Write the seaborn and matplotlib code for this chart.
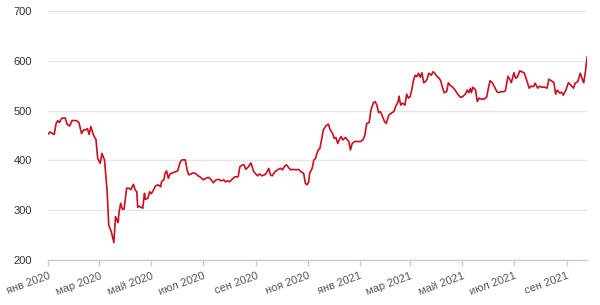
import matplotlib
matplotlib.use("Agg")
import matplotlib.pyplot as plt
import matplotlib.dates as mdates
import seaborn as sns
import pandas as pd
import numpy as np

# days since 2020-01-01
day_offsets = [
    0, 2, 7, 9, 11, 13, 16, 20, 22, 25, 28, 33, 36, 39, 42, 44, 46, 48, 50, 53,
    56, 58, 61, 63, 66, 69, 71, 74, 77, 79, 82, 83, 85, 87, 89, 92, 95, 97, 100, 102,
    104, 105, 107, 109, 111, 113, 114, 117, 119, 121, 124, 126, 129, 132, 133, 136, 137, 139, 141, 143,
    146, 149, 152, 155, 157, 161, 163, 165, 168, 170, 173, 176, 179, 182, 185, 188, 191, 194, 197, 200,
    203, 206, 208, 211, 213, 216, 219, 223, 225, 228, 230, 232, 235, 238, 241, 243, 246, 248, 251, 254,
    256, 259, 261, 263, 266, 270, 273, 275, 278, 280, 283, 285, 288, 291, 294, 297, 300, 302, 304, 306,
    307, 310, 312, 314, 315, 317, 319, 321, 323, 326, 329, 331, 334, 336, 338, 340, 342, 344, 346, 349,
    351, 353, 355, 357, 360, 364, 367, 370, 372, 374, 377, 379, 382, 384, 386, 388, 390, 392, 395, 397,
    399, 400, 403, 406, 408, 411, 412, 414, 416, 419, 421, 423, 425, 427, 429, 431, 433, 435, 437, 439,
    441, 443, 445, 447, 450, 452, 454, 457, 459, 461, 463, 465, 468, 470, 472, 475, 478, 481, 484, 486,
    490, 492, 494, 496, 497, 499, 502, 504, 506, 509, 512, 515, 517, 519, 522, 524, 527, 529, 532, 535,
    537, 540, 542, 544, 547, 549, 551, 554, 556, 559, 562, 565, 567, 570, 572, 575, 577, 580, 583, 586,
    588, 591, 594, 596, 598, 601, 603, 605, 608, 611, 614, 617, 619, 622, 625, 628, 629, 631, 633,
]
prices = [
    453, 457, 452, 473, 480, 476, 485, 485, 473, 469, 480, 480, 476, 454, 462, 461, 464, 452, 468, 451,
    442, 404, 394, 414, 401, 341, 270, 257, 235, 287, 275, 294, 314, 302, 302, 344, 344, 341, 352, 341,
    337, 306, 308, 306, 304, 334, 322, 324, 337, 333, 342, 349, 351, 347, 357, 362, 373, 379, 364, 373,
    375, 377, 379, 397, 401, 401, 381, 371, 373, 375, 374, 369, 366, 361, 364, 366, 362, 355, 361, 362,
    359, 361, 357, 359, 357, 362, 367, 367, 387, 391, 391, 382, 387, 395, 379, 374, 369, 373, 369, 371,
    374, 384, 371, 369, 377, 382, 384, 381, 389, 391, 384, 381, 382, 381, 382, 377, 374, 354, 351, 357,
    374, 384, 401, 404, 411, 421, 424, 441, 461, 469, 473, 462, 454, 444, 446, 434, 442, 448, 441, 446,
    442, 438, 421, 434, 438, 438, 438, 442, 451, 474, 476, 501, 516, 518, 511, 496, 498, 491, 478, 474,
    485, 491, 495, 498, 508, 518, 529, 511, 515, 511, 533, 525, 528, 541, 561, 571, 568, 575, 567, 576,
    556, 558, 563, 575, 571, 578, 575, 568, 565, 560, 547, 536, 538, 556, 551, 547, 541, 533, 527, 527,
    533, 541, 536, 545, 536, 547, 541, 518, 525, 523, 523, 527, 545, 560, 555, 548, 538, 536, 538, 538,
    540, 569, 563, 556, 576, 565, 567, 580, 578, 576, 561, 545, 549, 548, 555, 545, 549, 547, 547, 545,
    563, 560, 556, 533, 541, 535, 537, 531, 541, 556, 551, 545, 555, 558, 575, 560, 556, 578, 608,
]
tick_months = ["2020-01-01", "2020-03-01", "2020-05-01", "2020-07-01", "2020-09-01", "2020-11-01",
               "2021-01-01", "2021-03-01", "2021-05-01", "2021-07-01", "2021-09-01"]
tick_labels = ["янв 2020", "мар 2020", "май 2020", "июл 2020", "сен 2020", "ноя 2020",
               "янв 2021", "мар 2021", "май 2021", "июл 2021", "сен 2021"]
y_ticks = [200, 300, 400, 500, 600, 700]

df = pd.DataFrame({
    "date": pd.Timestamp("2020-01-01") + pd.to_timedelta(day_offsets, unit="D"),
    "price": prices,
})

sns.set_theme(style="white")
plt.rcParams["font.family"] = ["Liberation Sans", "DejaVu Sans"]

fig = plt.figure(figsize=(6.0, 3.05), dpi=100)
ax = fig.add_axes([0.0805, 0.1475, 0.898, 0.8165])

sns.lineplot(data=df, x="date", y="price", ax=ax, color="#c8101e", linewidth=1.2)

ax.set_xlim(df["date"].iloc[0], df["date"].iloc[-1])
ax.set_ylim(200, 700)
ax.set_yticks(y_ticks)
ax.set_yticklabels([str(v) for v in y_ticks], fontsize=8, color="#333333")
ax.yaxis.grid(True, color="#e6e6e6", linewidth=1)
ax.xaxis.grid(False)
ax.set_axisbelow(True)

ax.set_xticks(pd.to_datetime(tick_months))
ax.set_xticklabels(tick_labels, rotation=20, ha="right", rotation_mode="anchor",
                   fontsize=8, color="#555555")
ax.tick_params(axis="x", bottom=True, length=4, width=1, color="#cccccc", pad=4)
ax.tick_params(axis="y", left=False, pad=6)

for s in ["top", "right", "left"]:
    ax.spines[s].set_visible(False)
ax.spines["bottom"].set_color("#cccccc")
ax.spines["bottom"].set_linewidth(1)
ax.set_xlabel("")
ax.set_ylabel("")

fig.savefig("out.png", dpi=100, facecolor="white")
